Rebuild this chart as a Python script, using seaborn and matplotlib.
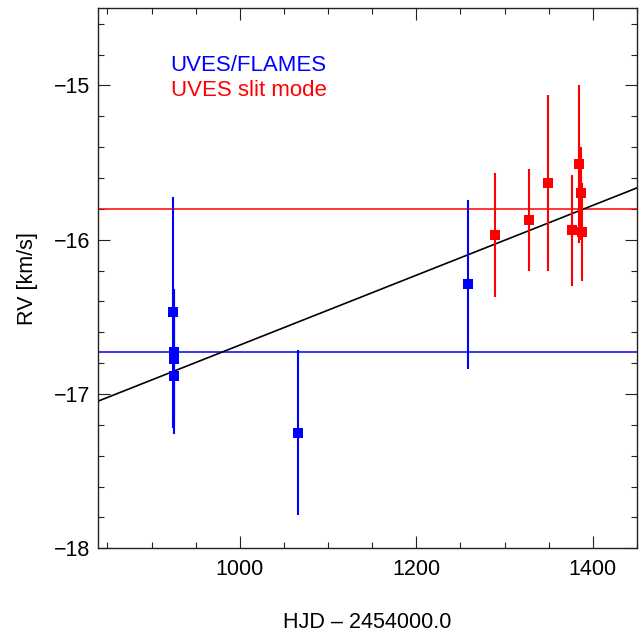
import numpy as np
import pandas as pd
import matplotlib
matplotlib.use("Agg")
import matplotlib.pyplot as plt
from matplotlib.ticker import MultipleLocator
import seaborn as sns

# ---- data ----
flames_hjd = [924, 925, 925.5, 925, 1066, 1258]
flames_rv = [-16.47, -16.73, -16.77, -16.88, -17.25, -16.29]
flames_err = [0.75, 0.41, 0.44, 0.38, 0.535, 0.55]

slit_hjd = [1289.5, 1327.5, 1349.5, 1376, 1384.5, 1387, 1387.5]
slit_rv = [-15.97, -15.87, -15.63, -15.94, -15.51, -15.70, -15.95]
slit_err = [0.40, 0.33, 0.57, 0.36, 0.51, 0.30, 0.32]

flames_mean = -16.73
slit_mean = -15.80
fit_x = [840, 1450]
fit_y = [-17.045, -15.664]

sns.set_style("ticks")
plt.rcParams["font.family"] = ["Liberation Sans", "DejaVu Sans"]
plt.rcParams["text.color"] = "black"
plt.rcParams["axes.labelcolor"] = "black"
plt.rcParams["xtick.color"] = "black"
plt.rcParams["ytick.color"] = "black"

fig = plt.figure(figsize=(6.43, 6.33), dpi=100)
ax = fig.add_axes([97.7 / 643, 1 - 548.3 / 633, 539.3 / 643, 540 / 633])

blue = "#0000ff"
red = "#ff0000"

ax.axhline(slit_mean, color=red, lw=1.1, zorder=1)
ax.axhline(flames_mean, color=blue, lw=1.1, zorder=1)

sns.lineplot(x=fit_x, y=fit_y, color="black", lw=1.2, ax=ax, zorder=2)

ax.errorbar(flames_hjd, flames_rv, yerr=flames_err, fmt="none",
            ecolor=blue, elinewidth=1.5, capsize=0, zorder=3)
ax.errorbar(slit_hjd, slit_rv, yerr=slit_err, fmt="none",
            ecolor=red, elinewidth=1.5, capsize=0, zorder=3)

df_f = pd.DataFrame({"hjd": flames_hjd, "rv": flames_rv})
df_s = pd.DataFrame({"hjd": slit_hjd, "rv": slit_rv})
sns.scatterplot(data=df_f, x="hjd", y="rv", marker="s", s=52, color=blue,
                linewidth=0, ax=ax, zorder=4)
sns.scatterplot(data=df_s, x="hjd", y="rv", marker="s", s=52, color=red,
                linewidth=0, ax=ax, zorder=4)

ax.set_xlim(839, 1450)
ax.set_ylim(-18, -14.5)
ax.set_xticks([1000, 1200, 1400])
ax.set_yticks([-18, -17, -16, -15])
ax.set_yticklabels(["\u221218", "\u221217", "\u221216", "\u221215"])
ax.xaxis.set_minor_locator(MultipleLocator(50))
ax.yaxis.set_minor_locator(MultipleLocator(0.2))
ax.tick_params(which="both", direction="in", top=True, right=True,
               width=0.8, color="#222222", labelcolor="black", labelsize=15.5)
ax.tick_params(which="major", length=8.6)
ax.tick_params(which="minor", length=4.3)
ax.tick_params(axis="x", pad=8)
ax.tick_params(axis="y", pad=5.5)
for sp in ax.spines.values():
    sp.set_linewidth(1.0)
    sp.set_color("#222222")

ax.set_xlabel("HJD \u2013 2454000.0", fontsize=15.5, labelpad=23, color="black")
ax.set_ylabel("RV [km/s]", fontsize=15.5, labelpad=11, color="black")

ax.text(0.135, 0.884, "UVES/FLAMES", color=blue, fontsize=16,
        transform=ax.transAxes, va="baseline", ha="left")
ax.text(0.135, 0.8376, "UVES slit mode", color=red, fontsize=16,
        transform=ax.transAxes, va="baseline", ha="left")

fig.savefig("out.png", dpi=100)
